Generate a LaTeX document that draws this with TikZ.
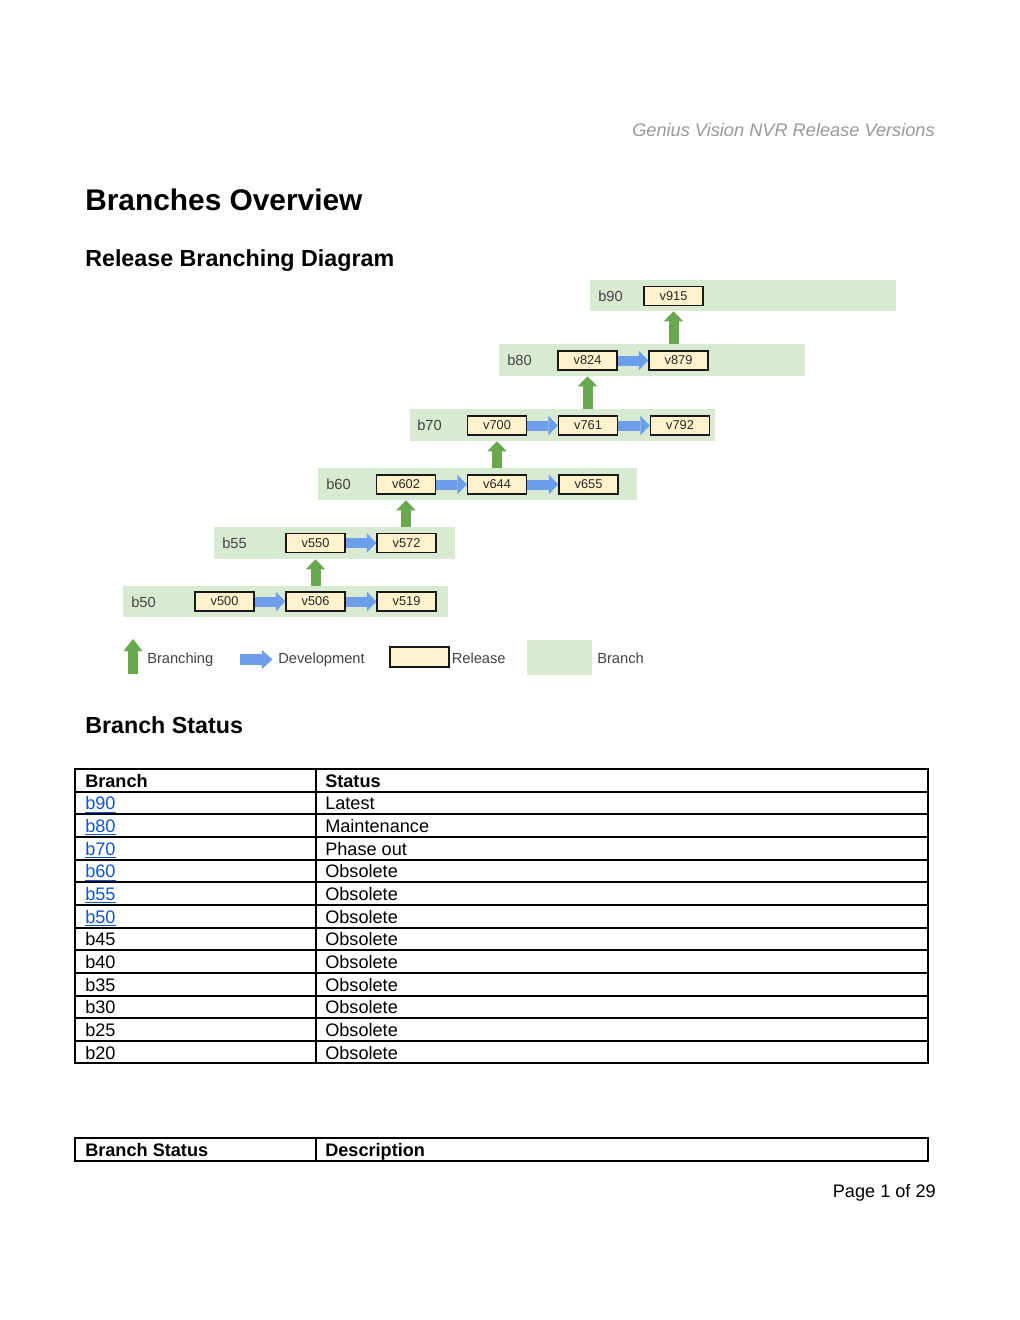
\documentclass[tikz,border=0pt]{standalone}
\usepackage{fontspec}
\setmainfont{Liberation Sans}
\usetikzlibrary{arrows.meta}
\definecolor{bandgreen}{HTML}{D9EAD3}
\definecolor{relfill}{HTML}{FFF2CC}
\definecolor{arrgreen}{HTML}{6AA84F}
\definecolor{arrblue}{HTML}{6D9EEB}
\definecolor{linkblue}{HTML}{1155CC}
\definecolor{hdrgray}{HTML}{999999}
\definecolor{lblgray}{HTML}{434343}
\begin{document}
\begin{tikzpicture}[x=0.75pt,y=-0.75pt,
  band/.style={fill=bandgreen, draw=none, minimum height=24pt, inner sep=0pt},
  rel/.style={draw=black!90, fill=relfill, line width=1.1pt, minimum width=44.25pt,
    minimum height=14.5pt, inner sep=0pt, text=black!85, font=\fontsize{9.6}{10}\selectfont},
  blabel/.style={anchor=base west, inner sep=0pt, text=lblgray, font=\fontsize{11}{13}\selectfont},
  dev/.style={draw=arrblue, line width=7.5pt, -{Triangle[length=7pt,width=14.5pt,line width=0pt]}},
  brn/.style={draw=arrgreen, line width=7.5pt, -{Triangle[length=7.5pt,width=14.5pt,line width=0pt]}},
  heading/.style={anchor=base west, inner sep=0pt, font=\fontsize{17.45}{20}\selectfont\bfseries},
  cell/.style={anchor=base west, inner sep=0pt, font=\fontsize{13.6}{16}\selectfont},
  hcell/.style={anchor=base west, inner sep=0pt, font=\fontsize{13.6}{16}\selectfont\bfseries},
  tline/.style={line width=1.5pt, draw=black},
  legtext/.style={anchor=base west, inner sep=0pt, text=lblgray, font=\fontsize{11}{13}\selectfont}
]
\useasboundingbox[fill=white] (0,0) rectangle (1020,1320);

% header / headings
\node[anchor=base east, inner sep=0pt, text=hdrgray, font=\fontsize{13.65}{16}\selectfont\itshape] (hdr) at (935,136) {Genius Vision NVR Release Versions};
\node[anchor=base west, inner sep=0pt, font=\fontsize{22.4}{26}\selectfont\bfseries] (title) at (85,210.5) {Branches Overview};
\node[heading] (h1) at (85,266.5) {Release Branching Diagram};
\node[heading] (h2) at (85,733.5) {Branch Status};

% branch bands
\node[band, minimum width=229.5pt, minimum height=23.25pt] (b90) at (743,295.5) {};
\node[band, minimum width=229.5pt] (b80) at (652,360) {};
\node[band, minimum width=228.75pt] (b70) at (562.5,425) {};
\node[band, minimum width=239.25pt] (b60) at (477.5,484) {};
\node[band, minimum width=180.75pt] (b55) at (334.5,543) {};
\node[band, minimum width=243.75pt, minimum height=23.25pt] (b50) at (285.5,601.5) {};

\node[blabel] (l90) at (598,301) {b90};
\node[blabel] (l80) at (507,365.5) {b80};
\node[blabel] (l70) at (417,430.5) {b70};
\node[blabel] (l60) at (326,489.5) {b60};
\node[blabel] (l55) at (222,548.5) {b55};
\node[blabel] (l50) at (131,607) {b50};

% releases
\node[rel] (v915) at (673.5,296) {v915};
\node[rel] (v824) at (587.5,360.5) {v824};
\node[rel] (v879) at (678.5,360.5) {v879};
\node[rel] (v700) at (497,425.5) {v700};
\node[rel] (v761) at (588,425.5) {v761};
\node[rel] (v792) at (680,425.5) {v792};
\node[rel] (v602) at (406,484.5) {v602};
\node[rel] (v644) at (497,484.5) {v644};
\node[rel] (v655) at (588.5,484.5) {v655};
\node[rel] (v550) at (315.5,543) {v550};
\node[rel] (v572) at (406.5,543) {v572};
\node[rel] (v500) at (224.5,601.5) {v500};
\node[rel] (v506) at (315.5,601.5) {v506};
\node[rel] (v519) at (406.5,601.5) {v519};

% development arrows
\draw[dev] (v824.east) -- (v879.west);
\draw[dev] (v700.east) -- (v761.west);
\draw[dev] (v761.east) -- (v792.west);
\draw[dev] (v602.east) -- (v644.west);
\draw[dev] (v644.east) -- (v655.west);
\draw[dev] (v550.east) -- (v572.west);
\draw[dev] (v500.east) -- (v506.west);
\draw[dev] (v506.east) -- (v519.west);

% branching arrows
\draw[brn] (b80.north -| v915) -- (b90.south -| v915);
\draw[brn] (b70.north -| v824) -- (b80.south -| v824);
\draw[brn] (b60.north -| v700) -- (b70.south -| v700);
\draw[brn] (b55.north -| v602) -- (b60.south -| v602);
\draw[brn] (b50.north -| v550) -- (b55.south -| v550);

% legend
\coordinate (lg1) at (133,673.5);
\coordinate (lg2) at (133,639);
\draw[draw=arrgreen, line width=7.9pt, -{Triangle[length=9pt,width=14.25pt,line width=0pt]}] (lg1) -- (lg2);
\node[legtext] (tBranching) at (147,663) {Branching};
\coordinate (ld1) at (240,659.5);
\coordinate (ld2) at (272.5,659.5);
\draw[draw=arrblue, line width=8.4pt, -{Triangle[length=7.9pt,width=14.25pt,line width=0pt]}] (ld1) -- (ld2);
\node[legtext] (tDev) at (278,663) {Development};
\node[rel, minimum width=44pt, minimum height=14.8pt] (lrel) at (419.5,657) {};
\node[legtext] (tRel) at (451.5,663) {Release};
\node[band, minimum width=48.75pt, minimum height=26.25pt] (lband) at (559.5,657) {};
\node[legtext] (tBranch) at (597,663) {Branch};

% status table
\draw[tline] (75,769) rectangle (928,1063.45);
\draw[tline] (316,769) -- (316,1063.45);
\foreach \i in {1,...,12} {
  \draw[tline] (75,769+22.65*\i) -- (928,769+22.65*\i);
}
\node[hcell] (th1) at (85,787.3) {Branch};
\node[hcell] (th2) at (325,787.3) {Status};
\foreach \b/\s/\k [count=\i] in {b90/Latest/1, b80/Maintenance/1, b70/Phase out/1, b60/Obsolete/1, b55/Obsolete/1, b50/Obsolete/1, b45/Obsolete/0, b40/Obsolete/0, b35/Obsolete/0, b30/Obsolete/0, b25/Obsolete/0, b20/Obsolete/0} {
  \ifnum\k=1
    \node[cell, text=linkblue] (tb\i) at (85,787.3+22.65*\i) {\underline{\b}};
  \else
    \node[cell] (tb\i) at (85,787.3+22.65*\i) {\b};
  \fi
  \node[cell] (ts\i) at (325,787.3+22.65*\i) {\s};
}

% second table
\draw[tline] (75,1138) rectangle (928,1161);
\draw[tline] (316,1138) -- (316,1161);
\node[hcell] (d1) at (85,1156) {Branch Status};
\node[hcell] (d2) at (325,1156) {Description};

\node[anchor=base east, inner sep=0pt, font=\fontsize{13.6}{16}\selectfont] (page) at (936,1197) {Page 1 of 29};
\end{tikzpicture}
\end{document}
